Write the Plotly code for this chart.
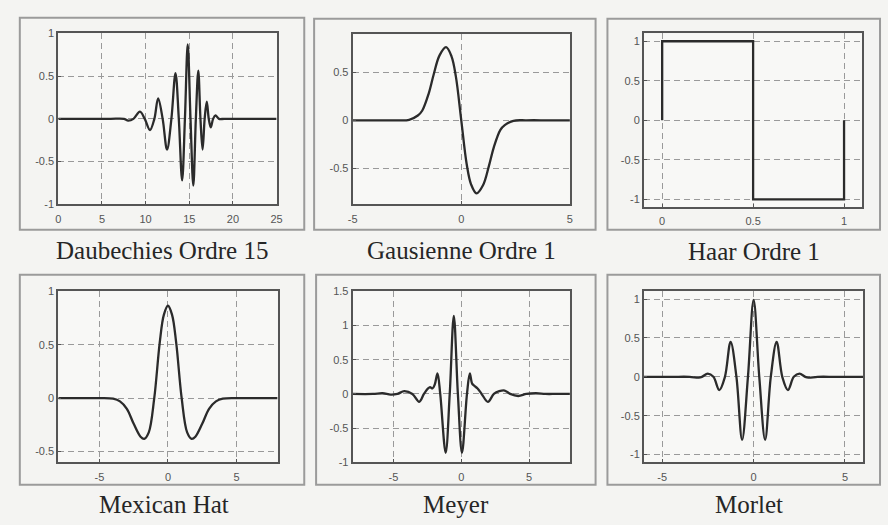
import plotly.graph_objects as go

W, H = 888, 525

# ---- wavelet samples -------------------------------------------------------
daub_x = [0, 3, 6, 7.5, 8.0, 8.6, 9.35, 9.9, 10.5, 11.0, 11.43, 11.95, 12.45, 12.95,
          13.42, 13.8, 14.18, 14.5, 14.82, 15.14, 15.46, 15.75, 16.03, 16.28, 16.52,
          16.76, 17.0, 17.23, 17.46, 17.73, 18.0, 18.4, 19.0, 21.0, 23.0, 25.0]
daub_y = [0, 0, 0, 0, -0.02, 0.0, 0.085, 0.0, -0.13, 0.0, 0.24, 0.0, -0.36, 0.0,
          0.535, 0.0, -0.72, 0.0, 0.87, 0.0, -0.78, 0.0, 0.565, 0.0, -0.36,
          0.0, 0.2, 0.0, -0.10, 0.0, 0.04, 0.0, 0, 0, 0, 0]

gaus_x = [-5, -4, -3, -2.4, -2.0, -1.8, -1.5, -1.27, -1.0, -0.7, -0.45, -0.25, 0,
          0.25, 0.45, 0.7, 1.0, 1.27, 1.5, 1.8, 2.0, 2.4, 3, 4, 5]
gaus_y = [0, 0, 0, 0.005, 0.05, 0.1, 0.28, 0.48, 0.68, 0.765, 0.67, 0.46, 0,
          -0.46, -0.67, -0.765, -0.68, -0.48, -0.28, -0.1, -0.05, -0.005, 0, 0, 0]

haar_x = [0, 0, 0.5, 0.5, 1, 1]
haar_y = [0, 1, 1, -1, -1, 0]

mexh_x = [-8, -6, -5, -4, -3.5, -3, -2.5, -2, -1.73, -1.4, -1, -0.6, -0.3, 0,
          0.3, 0.6, 1, 1.4, 1.73, 2, 2.5, 3, 3.5, 4, 5, 6, 8]
mexh_y = [0, 0, 0, -0.005, -0.03, -0.1, -0.24, -0.36, -0.38, -0.32, 0, 0.52, 0.78, 0.865,
          0.78, 0.52, 0, -0.32, -0.38, -0.36, -0.24, -0.1, -0.03, -0.005, 0, 0, 0]

meyr_x = [-8, -6.5, -5.8, -5.2, -4.7, -4.2, -3.6, -3.1, -2.75, -2.45, -2.3, -2.12,
          -1.95, -1.75, -1.55, -1.15, -0.85, -0.55, -0.25, 0.05, 0.42, 0.63, 0.8,
          0.95, 1.2, 1.5, 1.96, 2.4, 2.8, 3.2, 3.6, 4.2, 4.8, 5.5, 6.2, 7, 8]
meyr_y = [0, 0, 0.01, -0.01, 0.0, 0.04, 0.0, -0.115, 0.0, 0.08, 0.1, 0.08,
          0.14, 0.30, 0.0, -0.86, 0.0, 1.14, 0.0, -0.86, 0.0, 0.30, 0.15,
          0.12, 0.08, 0.0, -0.115, 0.0, 0.04, 0.05, 0.0, -0.03, 0.0, 0.01, 0, 0, 0]

morl_x = [-6, -4.5, -3.5, -3.0, -2.83, -2.51, -2.2, -1.88, -1.57, -1.26, -0.94, -0.63,
          -0.31, 0, 0.31, 0.63, 0.94, 1.26, 1.57, 1.88, 2.2, 2.51, 2.83, 3.0, 3.5, 4.5, 6]
morl_y = [0, 0, 0, -0.01, 0, 0.04, 0, -0.17, 0, 0.45, 0, -0.81,
          0, 0.99, 0, -0.81, 0, 0.45, 0, -0.17, 0, 0.04, 0, -0.01, 0, 0, 0]

# ---- tick values / labels --------------------------------------------------
daub_xt = [0, 5, 10, 15, 20, 25]
daub_xl = ["0", "5", "10", "15", "20", "25"]
pm1_yt = [-1, -0.5, 0, 0.5, 1]
pm1_yl = ["-1", "-0.5", "0", "0.5", "1"]
five_xt = [-5, 0, 5]
five_xl = ["-5", "0", "5"]
gaus_yt = [-0.5, 0, 0.5]
gaus_yl = ["-0.5", "0", "0.5"]
haar_xt = [0, 0.5, 1]
haar_xl = ["0", "0.5", "1"]
mexh_yt = [-0.5, 0, 0.5, 1]
mexh_yl = ["-0.5", "0", "0.5", "1"]
meyr_yt = [-1, -0.5, 0, 0.5, 1, 1.5]
meyr_yl = ["-1", "-0.5", "0", "0.5", "1", "1.5"]

captions = ["Daubechies Ordre 15", "Gausienne Ordre 1", "Haar Ordre 1",
            "Mexican Hat", "Meyer", "Morlet"]

# ---- panel layout (pixel boxes) --------------------------------------------
panels = [
    dict(x=daub_x, y=daub_y, shape="spline", xr=[0, 25], yr=[-1, 1],
         xt=daub_xt, xl=daub_xl, yt=pm1_yt, yl=pm1_yl,
         box=(54, 275, 28, 203), frame=(15, 303, 12, 229), cap=(159, 250)),
    dict(x=gaus_x, y=gaus_y, shape="spline", xr=[-5, 5], yr=[-0.88, 0.9],
         xt=five_xt, xl=five_xl, yt=gaus_yt, yl=gaus_yl,
         box=(352, 572, 29, 203), frame=(313, 598, 13, 229), cap=(462, 250)),
    dict(x=haar_x, y=haar_y, shape="linear", xr=[-0.1, 1.1], yr=[-1.1, 1.1],
         xt=haar_xt, xl=haar_xl, yt=pm1_yt, yl=pm1_yl,
         box=(647, 868, 28, 206), frame=(610, 886, 13, 229), cap=(758, 251)),
    dict(x=mexh_x, y=mexh_y, shape="spline", xr=[-8, 8], yr=[-0.6, 1],
         xt=five_xt, xl=five_xl, yt=mexh_yt, yl=mexh_yl,
         box=(54, 276, 292, 467), frame=(15, 303, 275, 490), cap=(161, 510)),
    dict(x=meyr_x, y=meyr_y, shape="spline", xr=[-8, 8], yr=[-1, 1.5],
         xt=five_xt, xl=five_xl, yt=meyr_yt, yl=meyr_yl,
         box=(352, 572, 292, 467), frame=(315, 598, 275, 490), cap=(457, 510)),
    dict(x=morl_x, y=morl_y, shape="spline", xr=[-6, 6], yr=[-1.1, 1.1],
         xt=five_xt, xl=five_xl, yt=pm1_yt, yl=pm1_yl,
         box=(647, 869, 292, 467), frame=(610, 886, 275, 490), cap=(753, 510)),
]

TICK_FONT = dict(family="Liberation Sans, Arial, sans-serif", size=11, color="#555")
AXIS = dict(showgrid=True, gridcolor="#9a9a9a", gridwidth=1, griddash="6px,4px",
            zeroline=False, showline=True, linecolor="#555", linewidth=2,
            mirror=True, ticks="inside", ticklen=3, tickcolor="#555",
            tickfont=TICK_FONT, fixedrange=True)

fig = go.Figure()
layout = {}
shapes = []
annotations = []

for i, p in enumerate(panels, start=1):
    sx = "" if i == 1 else str(i)
    x0, x1, y0, y1 = p["box"]
    fig.add_trace(go.Scatter(
        x=p["x"], y=p["y"], mode="lines",
        line=dict(color="#2b2b2b", width=2.3, shape=p["shape"], smoothing=1.0),
        xaxis="x" + sx, yaxis="y" + sx, showlegend=False, hoverinfo="skip"))
    layout["xaxis" + sx] = dict(domain=[x0 / W, x1 / W], range=p["xr"],
                                anchor="y" + sx, tickvals=p["xt"], ticktext=p["xl"],
                                ticklabelstandoff=3, **AXIS)
    layout["yaxis" + sx] = dict(domain=[1 - y1 / H, 1 - y0 / H], range=p["yr"],
                                anchor="x" + sx, tickvals=p["yt"], ticktext=p["yl"],
                                **AXIS)
    fx0, fx1, fy0, fy1 = p["frame"]
    shapes.append(dict(type="rect", xref="paper", yref="paper",
                       x0=fx0 / W, x1=fx1 / W, y0=1 - fy1 / H, y1=1 - fy0 / H,
                       line=dict(color="#9b9b9b", width=2), layer="below"))
    cx, cy = p["cap"]
    annotations.append(dict(text=captions[i - 1], xref="paper", yref="paper",
                            x=cx / W, y=1 - cy / H, xanchor="center", yanchor="middle",
                            showarrow=False,
                            font=dict(family="Liberation Serif, Times New Roman, serif",
                                      size=25, color="#262626")))

fig.update_layout(
    width=W, height=H, margin=dict(l=0, r=0, t=0, b=0),
    paper_bgcolor="#f4f4f2", plot_bgcolor="#f8f8f6",
    shapes=shapes, annotations=annotations, **layout)

fig.write_html("out.html", config={"displayModeBar": False})
